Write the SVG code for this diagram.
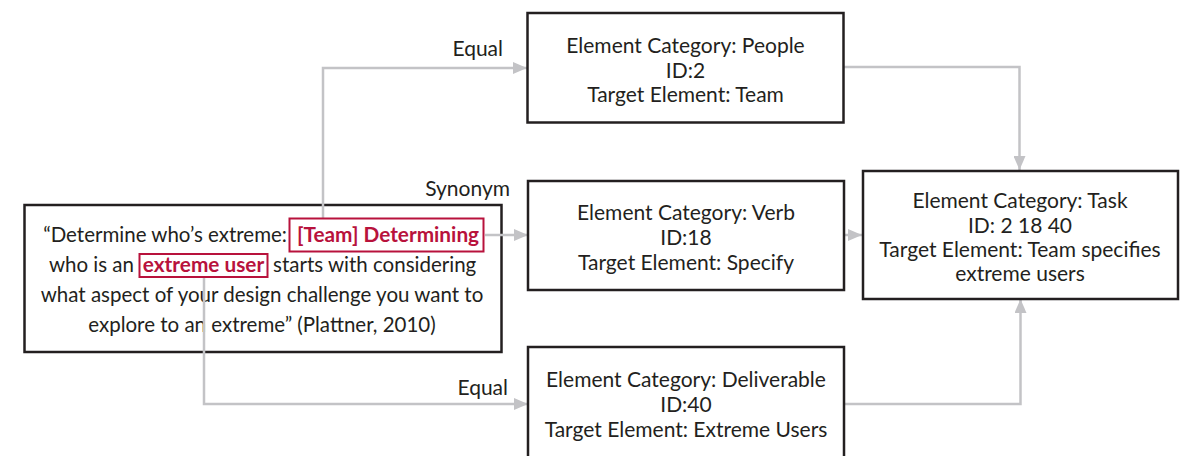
<svg xmlns="http://www.w3.org/2000/svg" width="1185" height="456" viewBox="0 0 1185 456">
<defs>
<style>
.box{fill:#fff;stroke:#231f20;stroke-width:2.5}
.hl{fill:none;stroke:#b8123c;stroke-width:2}
.t{font-family:Lato,"Liberation Sans",sans-serif;font-size:21px;fill:#231f20}
.q{font-size:20.5px}
.m{text-anchor:middle}
.r{font-family:Lato,"Liberation Sans",sans-serif;font-size:20.8px;font-weight:bold;fill:#b8123c}
.c{fill:none;stroke:#c3c3c6;stroke-width:2.5}
</style>
<marker id="ah" viewBox="0 0 14 12" refX="14" refY="6" markerWidth="14" markerHeight="12" markerUnits="userSpaceOnUse" orient="auto">
<path d="M0,0 L14,6 L0,12 Z" fill="#c3c3c6"/>
</marker>
</defs>
<rect width="1185" height="456" fill="#fff"/>
<g id="quote">
<rect class="box" x="24.5" y="205" width="477" height="147"/>
<text class="t q" x="287" y="242" text-anchor="end">“Determine who’s extreme:</text>
<text class="t q" x="134" y="272" text-anchor="end">who is an</text>
<text class="t q" x="273" y="272">starts with considering</text>
<text class="t q m" x="262" y="302">what aspect of your design challenge you want to</text>
<text class="t q m" x="262" y="332">explore to an extreme” (Plattner, 2010)</text>
</g>
<g id="connectors">
<path class="c" d="M323,218 V68 H527" marker-end="url(#ah)"/>
<path class="c" d="M485,235 H528" marker-end="url(#ah)"/>
<path class="c" d="M204,277 V404 H528" marker-end="url(#ah)"/>
<path class="c" d="M844,67 H1019.5 V170" marker-end="url(#ah)"/>
<path class="c" d="M844,235 H862" marker-end="url(#ah)"/>
<path class="c" d="M844,404 H1020.5 V299" marker-end="url(#ah)"/>
<text class="t" x="503" y="56" text-anchor="end">Equal</text>
<text class="t" x="510" y="196" text-anchor="end">Synonym</text>
<text class="t" x="508" y="395" text-anchor="end">Equal</text>
</g>
<g id="highlight-team">
<rect class="hl" x="289.5" y="218.5" width="194" height="33"/>
<text class="r m" x="388" y="242">[Team] Determining</text>
</g>
<g id="highlight-user">
<rect class="hl" x="139.5" y="254" width="128" height="23"/>
<text class="r m" x="203.5" y="272">extreme user</text>
</g>
<g id="people">
<rect class="box" x="527.5" y="13" width="316" height="109.5"/>
<text class="t m" x="685.5" y="53">Element Category: People</text>
<text class="t m" x="685.5" y="78">ID:2</text>
<text class="t m" x="685.5" y="102">Target Element: Team</text>
</g>
<g id="verb">
<rect class="box" x="528" y="181" width="316" height="109"/>
<text class="t m" x="686" y="220">Element Category: Verb</text>
<text class="t m" x="686" y="245">ID:18</text>
<text class="t m" x="686" y="270">Target Element: Specify</text>
</g>
<g id="deliverable">
<rect class="box" x="528" y="347" width="316" height="120"/>
<text class="t m" x="686" y="387">Element Category: Deliverable</text>
<text class="t m" x="686" y="412">ID:40</text>
<text class="t m" x="686" y="437">Target Element: Extreme Users</text>
</g>
<g id="task">
<rect class="box" x="863" y="171" width="315" height="128"/>
<text class="t m" x="1020" y="208">Element Category: Task</text>
<text class="t m" x="1020" y="233">ID: 2 18 40</text>
<text class="t m" x="1020" y="257">Target Element: Team specifies</text>
<text class="t m" x="1020" y="281">extreme users</text>
</g>
</svg>
